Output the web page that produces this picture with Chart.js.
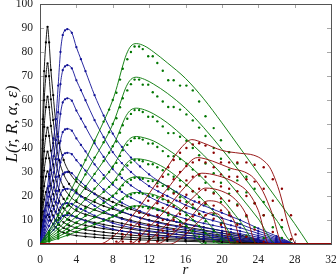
<!DOCTYPE html>
<html><head><meta charset="utf-8">
<script src="https://cdn.jsdelivr.net/npm/chart.js@4/dist/chart.umd.min.js"></script>
<style>html,body{margin:0;padding:0;background:#fff}canvas{display:block}</style>
</head><body>
<canvas id="c" width="336" height="279"></canvas>
<script>
// ---- tick labels ----
const xTicks = [0, 4, 8, 12, 16, 20, 24, 28, 32];
const yTicks = [0, 10, 20, 30, 40, 50, 60, 70, 80, 90, 100];

// ---- black family (narrow peak near r = 0.8) ----
const blackR = [0, 0.15, 0.3, 0.46, 0.65, 0.83, 1.0, 1.2, 1.45, 1.7, 2.1, 2.6, 3.2, 4, 5, 6, 7, 8, 9, 10, 11, 12, 13, 14, 16, 18, 20, 22, 24, 25.5];
const black0 = [0, 28, 52, 72, 84, 90.5, 84, 72.5, 62, 52, 42, 35, 30, 26, 23, 21, 19, 17.5, 16, 14.5, 13.2, 12, 11, 10, 8.5, 7, 5.5, 3.8, 1.8, 0];
const black1 = [0, 23.3, 43.3, 59.9, 69.9, 75.3, 69.9, 60.3, 51.6, 43.3, 34.9, 29.1, 25, 21.6, 19.1, 17.5, 15.8, 14.6, 13.3, 12.1, 11, 10, 9.2, 8.3, 7.1, 5.8, 4.6, 3.2, 1.5, 0];
const black2 = [0, 19, 35.3, 48.8, 57, 61.4, 57, 49.2, 42, 35.3, 28.5, 23.7, 20.3, 17.6, 15.6, 14.2, 12.9, 11.9, 10.8, 9.8, 8.9, 8.1, 7.5, 6.8, 5.8, 4.7, 3.7, 2.6, 1.2, 0];
const black3 = [0, 15, 27.9, 38.6, 45, 48.5, 45, 38.9, 33.2, 27.9, 22.5, 18.8, 16.1, 13.9, 12.3, 11.3, 10.2, 9.4, 8.6, 7.8, 7.1, 6.4, 5.9, 5.4, 4.6, 3.8, 2.9, 2, 1, 0];
const black4 = [0, 11.9, 22.1, 30.6, 35.7, 38.5, 35.7, 30.8, 26.4, 22.1, 17.9, 14.9, 12.8, 11.1, 9.8, 8.9, 8.1, 7.4, 6.8, 6.2, 5.6, 5.1, 4.7, 4.3, 3.6, 3, 2.3, 1.6, 0.8, 0];
const black5 = [0, 9.4, 17.4, 24.1, 28.1, 30.3, 28.1, 24.3, 20.8, 17.4, 14.1, 11.7, 10, 8.7, 7.7, 7, 6.4, 5.9, 5.4, 4.9, 4.4, 4, 3.7, 3.4, 2.8, 2.3, 1.8, 1.3, 0.6, 0];
const black6 = [0, 7.2, 13.4, 18.5, 21.6, 23.3, 21.6, 18.6, 15.9, 13.4, 10.8, 9, 7.7, 6.7, 5.9, 5.4, 4.9, 4.5, 4.1, 3.7, 3.4, 3.1, 2.8, 2.6, 2.2, 1.8, 1.4, 1, 0.5, 0];
const black7 = [0, 5.3, 9.9, 13.7, 16, 17.2, 16, 13.8, 11.8, 9.9, 8, 6.7, 5.7, 4.9, 4.4, 4, 3.6, 3.3, 3, 2.8, 2.5, 2.3, 2.1, 1.9, 1.6, 1.3, 1, 0.7, 0.3, 0];
const black8 = [0, 3.8, 7, 9.6, 11.3, 12.1, 11.3, 9.7, 8.3, 7, 5.6, 4.7, 4, 3.5, 3.1, 2.8, 2.5, 2.3, 2.1, 1.9, 1.7, 1.6, 1.4, 1.3, 1.1, 0.9, 0.7, 0.5, 0.2, 0];

// ---- blue family (peak near r = 3) ----
const blueR = [0, 0.5, 1, 1.5, 1.75, 2, 2.25, 2.5, 2.75, 3, 3.5, 4, 4.5, 5, 6, 7, 8, 9, 10, 11, 12, 13, 14, 15, 16, 17, 18, 19, 20, 21, 22, 24, 26, 28];
const blue0 = [0, 14, 29, 44, 52, 66, 80, 87, 89, 89.5, 88, 82, 77, 72, 62, 53.5, 46, 40.5, 36, 32.3, 29, 26.3, 24, 21.7, 19.5, 17.7, 16, 14.5, 13, 11.5, 10, 6.5, 3.3, 0];
const blue1 = [0, 11.6, 24.1, 36.6, 43.3, 54.9, 66.6, 72.4, 74, 74.5, 73.2, 68.2, 64.1, 59.9, 51.6, 44.5, 38.3, 33.7, 30, 26.9, 24.1, 21.9, 20, 18.1, 16.2, 14.7, 13.3, 12.1, 10.8, 9.6, 8.3, 5.4, 2.7, 0];
const blue2 = [0, 9.5, 19.7, 29.8, 35.3, 44.7, 54.2, 59, 60.3, 60.7, 59.7, 55.6, 52.2, 48.8, 42, 36.3, 31.2, 27.5, 24.4, 21.9, 19.7, 17.8, 16.3, 14.7, 13.2, 12, 10.8, 9.8, 8.8, 7.8, 6.8, 4.4, 2.2, 0];
const blue3 = [0, 7.5, 15.5, 23.6, 27.9, 35.4, 42.9, 46.6, 47.7, 48, 47.2, 44, 41.3, 38.6, 33.2, 28.7, 24.7, 21.7, 19.3, 17.3, 15.5, 14.1, 12.9, 11.6, 10.5, 9.5, 8.6, 7.8, 7, 6.2, 5.4, 3.5, 1.8, 0];
const blue4 = [0, 6, 12.3, 18.7, 22.1, 28.1, 34, 37, 37.8, 38, 37.4, 34.9, 32.7, 30.6, 26.4, 22.7, 19.6, 17.2, 15.3, 13.7, 12.3, 11.2, 10.2, 9.2, 8.3, 7.5, 6.8, 6.2, 5.5, 4.9, 4.3, 2.8, 1.4, 0];
const blue5 = [0, 4.7, 9.7, 14.7, 17.4, 22.1, 26.8, 29.1, 29.8, 30, 29.5, 27.5, 25.8, 24.1, 20.8, 17.9, 15.4, 13.6, 12.1, 10.8, 9.7, 8.8, 8, 7.3, 6.5, 5.9, 5.4, 4.9, 4.4, 3.9, 3.4, 2.2, 1.1, 0];
const blue6 = [0, 3.6, 7.5, 11.3, 13.4, 17, 20.6, 22.4, 22.9, 23, 22.6, 21.1, 19.8, 18.5, 15.9, 13.7, 11.8, 10.4, 9.3, 8.3, 7.5, 6.8, 6.2, 5.6, 5, 4.5, 4.1, 3.7, 3.3, 3, 2.6, 1.7, 0.8, 0];
const blue7 = [0, 2.7, 5.5, 8.4, 9.9, 12.5, 15.2, 16.5, 16.9, 17, 16.7, 15.6, 14.6, 13.7, 11.8, 10.2, 8.7, 7.7, 6.8, 6.1, 5.5, 5, 4.6, 4.1, 3.7, 3.4, 3, 2.8, 2.5, 2.2, 1.9, 1.2, 0.6, 0];
const blue8 = [0, 1.9, 3.9, 5.9, 7, 8.8, 10.7, 11.7, 11.9, 12, 11.8, 11, 10.3, 9.6, 8.3, 7.2, 6.2, 5.4, 4.8, 4.3, 3.9, 3.5, 3.2, 2.9, 2.6, 2.4, 2.1, 1.9, 1.7, 1.5, 1.3, 0.9, 0.4, 0];

// ---- green family (peak near r = 10.6): model lines ----
const greenR = [0, 2, 4, 6, 7, 8, 8.5, 9, 9.5, 10, 10.6, 11.5, 12.5, 14, 16, 18, 20, 22, 24, 26, 28, 29.5];
const green0 = [0, 12, 27, 43, 51, 60, 66, 73, 79, 82.5, 83.5, 82.5, 80, 75.5, 69, 60.5, 50.5, 40, 29.5, 19, 8.5, 0];
const green1 = [0, 10, 22.5, 35.8, 42.4, 49.9, 54.9, 60.7, 65.7, 68.6, 69.5, 68.6, 66.6, 62.8, 56.5, 48.5, 39.5, 30, 20, 10, 0, 0];
const green2 = [0, 8.1, 18.3, 29.2, 34.6, 40.7, 44.7, 49.5, 53.6, 55.9, 56.6, 55.9, 54.2, 50.5, 44, 37, 29, 20, 10.5, 0, 0, 0];
const green3 = [0, 6.4, 14.5, 23, 27.3, 32.2, 35.4, 39.1, 42.3, 44.2, 44.8, 44.2, 42.9, 39.5, 34, 27, 19, 9.5, 0, 0, 0, 0];
const green4 = [0, 5.1, 11.5, 18.3, 21.7, 25.5, 28.1, 31, 33.6, 35.1, 35.5, 35.1, 34, 31, 25, 18, 9.5, 0, 0, 0, 0, 0];
const green5 = [0, 4, 9, 14.4, 17.1, 20.1, 22.1, 24.5, 26.5, 27.6, 28, 27.6, 26.8, 24, 18.5, 11, 2.5, 0, 0, 0, 0, 0];
const green6 = [0, 3.1, 6.9, 11.1, 13.1, 15.4, 17, 18.8, 20.3, 21.2, 21.5, 21.2, 20.6, 18, 13, 5.5, 0, 0, 0, 0, 0, 0];
const green7 = [0, 2.3, 5.1, 8.2, 9.7, 11.4, 12.5, 13.9, 15, 15.7, 15.9, 15.7, 15.2, 13, 8, 0, 0, 0, 0, 0, 0, 0];

// ---- green family: measured points ----
const greenDotR = [1, 2, 3, 4, 5, 6, 7, 7.6, 8, 8.4, 8.8, 9.1, 9.6, 10, 10.4, 10.9, 11.3, 11.9, 12.4, 12.9, 13.5, 14.1, 14.7, 15.4, 16.1, 16.8, 17.5, 18.2, 19.1, 19.9, 20.8, 21.7, 22.7, 23.6, 24.6, 25.6, 26.6, 27.6];
const greenDot0 = [5, 12, 19, 27, 35, 43, 51, 56, 60, 63, 68.5, 73, 77, 80, 82.3, 82.3, 81.2, 78.2, 78.2, 75.4, 72.2, 68.2, 68.2, 66, 66, 64, 59.4, 53.2, 48.3, 43.2, 38.2, 33.5, 28, 23, 17.5, 12, 7, 2];
const greenDot1 = [4.2, 10, 15.8, 22.5, 29, 36, 42.4, 46.6, 50, 52.4, 57, 60.7, 64, 66.6, 68.5, 68.5, 66.4, 66.4, 63.2, 61.5, 59.4, 57.1, 57.1, 56, 54, 51.5, 48.5, 45, 40, 35.5, 31, 26.5, 21.5, 17, 12, 7, 2.5, null];
const greenDot2 = [3.4, 8.1, 12.9, 18.3, 23.7, 29.2, 34.6, 38, 40.7, 42.7, 46.4, 49.5, 52.2, 54.2, 55.8, 55.8, 55, 53, 53, 51.1, 49, 46.2, 46.2, 44.7, 43, 40, 37, 33.5, 29.5, 25.5, 21, 16.5, 11.5, 7, 2.5, null, null, null];
const greenDot3 = [2.7, 6.4, 10.2, 14.5, 18.8, 23, 27.3, 30, 32.2, 33.8, 36.7, 39.1, 41.3, 42.9, 44.1, 44.1, 43.5, 41.9, 41.9, 40.4, 38.7, 36.6, 36.6, 35.4, 33.5, 31, 28.5, 25.5, 21.5, 17.5, 13, 8.5, 3.5, null, null, null, null, null];
const greenDot4 = [2.1, 5.1, 8.1, 11.5, 14.9, 18.3, 21.7, 23.8, 25.5, 26.8, 29.1, 31, 32.7, 34, 35, 35, 34.5, 33.2, 33.2, 32, 30.7, 29, 28, 26.5, 24.5, 22, 19.5, 16.5, 12.5, 8.5, 4, null, null, null, null, null, null, null];
const greenDot5 = [1.7, 4, 6.4, 9, 11.7, 14.4, 17.1, 18.8, 20.1, 21.1, 22.9, 24.5, 25.8, 26.8, 27.6, 27.6, 27.2, 26.2, 26.2, 25.3, 24.2, 22.8, 21.5, 19.5, 17.5, 15, 12.5, 9.5, 5.5, 1.5, null, null, null, null, null, null, null, null];
const greenDot6 = [1.3, 3.1, 4.9, 6.9, 9, 11.1, 13.1, 14.4, 15.4, 16.2, 17.6, 18.8, 19.8, 20.6, 21.2, 21.2, 20.9, 20.1, 20.1, 19.4, 18.6, 17.5, 16, 14, 12, 10, 7.5, 4.5, 1, null, null, null, null, null, null, null, null, null];
const greenDot7 = [1, 2.3, 3.6, 5.1, 6.7, 8.2, 9.7, 10.6, 11.4, 12, 13, 13.9, 14.6, 15.2, 15.6, 15.6, 15.4, 14.9, 14.9, 14.3, 13.7, 12, 11, 9.5, 7.5, 5.5, 3, 0.5, null, null, null, null, null, null, null, null, null, null];

// ---- red family (peak near r = 17): model lines ----
const red0R = [0, 6.5, 8, 10, 12, 14, 15.5, 16.7, 18, 20, 22, 23.5, 24.5, 25.4, 26.4, 27.3, 28.2, 32];
const red0 = [0, 0, 3, 11, 21, 32, 40, 43.5, 42, 39, 37.8, 37, 35, 31, 21, 8, 0, 0];
const red1R = [0, 8.2, 10, 12, 14, 15.5, 17.3, 19, 21, 22.5, 23.5, 24.5, 25.5, 26.7, 32];
const red1 = [0, 0, 6, 14, 23, 30, 36, 34.5, 31.5, 30, 27.5, 22, 13, 0, 0];
const red2R = [0, 9.8, 12, 14, 16, 17.8, 19.5, 21.5, 23, 24, 25.2, 32];
const red2 = [0, 0, 7, 15, 24, 29.5, 28.5, 25.5, 21, 14, 0, 0];
const red3R = [0, 11.3, 13, 15, 17, 18.2, 20, 21.5, 22.7, 23.8, 32];
const red3 = [0, 0, 5, 12, 20, 23.3, 22, 18.5, 12, 0, 0];
const red4R = [0, 12.8, 14.5, 16.5, 18.5, 20, 21.3, 22.3, 32];
const red4 = [0, 0, 4, 11, 18, 16.5, 10, 0, 0];
const red5R = [0, 14.3, 16, 17.5, 18.8, 20, 21, 32];
const red5 = [0, 0, 4, 9.5, 13, 11, 0, 0];

// ---- red family: measured points ----
const redDotR = [8.4, 9.1, 10, 10.9, 11.9, 12.9, 13.5, 14.1, 14.7, 15.4, 16.1, 16.8, 17.5, 18.2, 19.1, 19.9, 20.8, 21.7, 22.7, 23.6, 24.6, 25.6, 26.6, 27.6, 28.1];
const redDot0 = [1, 4, 8, 13, 18, 24, 28, 32, 35, 38, 40, 41.5, 42, 41, 38, 34, 34, 34, 34, 33, 32, 27, 23, 12, 4];
const redDot1 = [null, 1, 4, 8, 12, 17, 20, 24, 27, 30, 32.5, 34, 35, 34, 32, 29, 28, 28, 27, 26, 23, 18, 10, 2, null];
const redDot2 = [null, null, 1, 4, 8, 12, 15, 18, 21, 24, 26.5, 28, 29, 28, 26, 24, 23, 22, 20, 17, 12, 5, null, null, null];
const redDot3 = [null, null, null, 1, 4, 8, 10, 13, 15.5, 18, 20.5, 22, 23, 22.5, 21, 19, 18, 16, 12, 6, 1, null, null, null, null];
const redDot4 = [null, null, null, null, 1, 3.5, 5.5, 8, 10, 12.5, 15, 16.5, 17.5, 17, 16, 14, 12, 8, 3, null, null, null, null, null, null];
const redDot5 = [null, null, null, null, null, 1, 2.5, 4, 6, 8, 10, 11.5, 12.5, 12, 10.5, 8, 4, 1, null, null, null, null, null, null, null];

const BLACK = '#000000', BLUE = 'rgb(18,18,150)', GREEN = 'rgb(0,118,0)', RED = 'rgb(140,0,0)';
const FONT = 'Liberation Serif';

const datasets = [];
function pts(rs, ls) {
  const o = [];
  rs.forEach((r, i) => { if (ls[i] !== null && ls[i] !== undefined) o.push({ x: r, y: ls[i] }); });
  return o;
}
function addLine(rs, ls, color, order, withDots) {
  datasets.push({ type: 'line', data: pts(rs, ls), borderColor: color, backgroundColor: color,
    borderWidth: 0.9, pointRadius: withDots ? 1.15 : 0, pointBorderWidth: 0, pointBackgroundColor: color,
    cubicInterpolationMode: 'monotone', fill: false, order });
}
function addDots(rs, ls, color, order) {
  datasets.push({ type: 'scatter', data: pts(rs, ls), showLine: false, pointRadius: 1.2,
    pointBorderWidth: 0, pointBackgroundColor: color, borderColor: color, order });
}
[black0, black1, black2, black3, black4, black5, black6, black7, black8].forEach(a => addLine(blackR, a, BLACK, 7, true));
[blue0, blue1, blue2, blue3, blue4, blue5, blue6, blue7, blue8].forEach(a => addLine(blueR, a, BLUE, 6, true));
[greenDot0, greenDot1, greenDot2, greenDot3, greenDot4, greenDot5, greenDot6, greenDot7].forEach(a => addDots(greenDotR, a, GREEN, 5));
[green0, green1, green2, green3, green4, green5, green6, green7].forEach(a => addLine(greenR, a, GREEN, 4, false));
[redDot0, redDot1, redDot2, redDot3, redDot4, redDot5].forEach(a => addDots(redDotR, a, RED, 3));
[[red0R, red0], [red1R, red1], [red2R, red2], [red3R, red3], [red4R, red4], [red5R, red5]].forEach(p => addLine(p[0], p[1], RED, 2, false));

const frame = {
  id: 'frame',
  beforeDatasetsDraw(chart) {
    const { ctx, chartArea: a, scales: { x, y } } = chart;
    ctx.save();
    ctx.lineWidth = 1;
    ctx.strokeStyle = '#a8a8a8';
    ctx.beginPath();
    xTicks.forEach(v => {
      const p = Math.round(x.getPixelForValue(v)) + 0.5;
      ctx.moveTo(p, a.bottom); ctx.lineTo(p, a.bottom - 4);
      ctx.moveTo(p, a.top); ctx.lineTo(p, a.top + 4);
    });
    yTicks.forEach(v => {
      const p = Math.round(y.getPixelForValue(v)) + 0.5;
      ctx.moveTo(a.left, p); ctx.lineTo(a.left + 4, p);
      ctx.moveTo(a.right, p); ctx.lineTo(a.right - 4, p);
    });
    ctx.stroke();
    ctx.strokeStyle = '#555555';
    ctx.strokeRect(Math.round(a.left) + 0.5, Math.round(a.top) + 0.5, Math.round(a.right - a.left), Math.round(a.bottom - a.top));
    ctx.restore();
  }
};

new Chart(document.getElementById('c').getContext('2d'), {
  type: 'line',
  data: { datasets },
  options: {
    responsive: false, animation: false, events: [],
    layout: { padding: { top: 4, right: 5, left: 0, bottom: 0 } },
    plugins: { legend: { display: false }, tooltip: { enabled: false } },
    scales: {
      x: {
        type: 'linear', min: 0, max: 32,
        afterBuildTicks: s => { s.ticks = xTicks.map(v => ({ value: v })); },
        ticks: { font: { family: FONT, size: 11.5 }, color: '#222', padding: 9, maxRotation: 0, autoSkip: false },
        grid: { display: false, drawTicks: false }, border: { display: false },
        title: { display: true, text: 'r', color: '#111', font: { family: FONT, style: 'italic', size: 15 }, padding: { top: 0, bottom: 0 } },
        afterFit: s => { s.height = 35; s.paddingLeft = 0; s.paddingRight = 0; }
      },
      y: {
        type: 'linear', min: 0, max: 100,
        afterBuildTicks: s => { s.ticks = yTicks.map(v => ({ value: v })); },
        ticks: { font: { family: FONT, size: 11.5 }, color: '#222', padding: 7, autoSkip: false },
        grid: { display: false, drawTicks: false }, border: { display: false },
        title: { display: true, text: 'L(r, R, α, ε)', color: '#111', font: { family: FONT, style: 'italic', size: 17 }, padding: { top: 2, bottom: 0 } },
        afterFit: s => { s.width = 40; s.paddingTop = 0; s.paddingBottom = 0; }
      }
    }
  },
  plugins: [frame]
});
</script>
</body></html>
